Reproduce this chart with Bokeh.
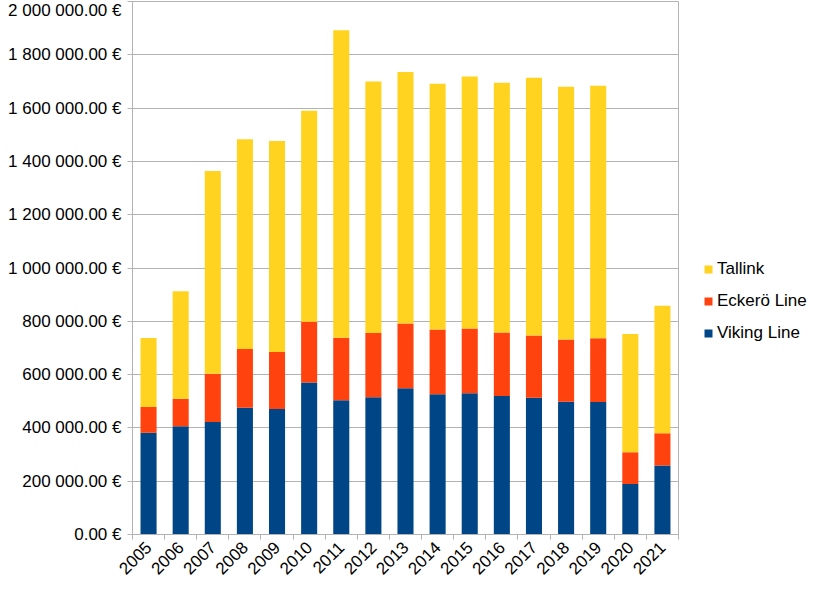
import math
from bokeh.plotting import figure
from bokeh.layouts import row
from bokeh.models import Range1d, FixedTicker, Legend, LegendItem
from bokeh.embed import file_html
from bokeh.resources import INLINE

years = ["2005", "2006", "2007", "2008", "2009", "2010", "2011", "2012", "2013",
         "2014", "2015", "2016", "2017", "2018", "2019", "2020", "2021"]
viking = [381400, 406000, 422000, 476000, 471000, 570000, 504000, 515000, 549000,
          526000, 530000, 520000, 513000, 498000, 497000, 189600, 258700]
eckero = [96600, 103000, 181000, 220000, 214000, 228000, 234000, 241000, 243000,
          243000, 243000, 238000, 234000, 234000, 239000, 119000, 121300]
tallink = [259000, 404000, 761000, 787000, 792000, 792000, 1154000, 944000, 943000,
           922000, 946000, 937000, 967000, 948000, 948000, 443400, 478700]
y_ticks = [0, 200000, 400000, 600000, 800000, 1000000, 1200000, 1400000, 1600000, 1800000, 2000000]
y_tick_labels = ["0.00 €", "200 000.00 €", "400 000.00 €", "600 000.00 €", "800 000.00 €",
                 "1 000 000.00 €", "1 200 000.00 €", "1 400 000.00 €", "1 600 000.00 €",
                 "1 800 000.00 €", "2 000 000.00 €"]
series_names = ["Viking Line", "Eckerö Line", "Tallink"]
colors = ["#004586", "#FF420E", "#FFD320"]

FONT = "Liberation Sans"
GRID = "#b3b3b3"

x_pos = [i + 0.5 for i in range(len(years))]
data = dict(x=x_pos, viking=viking, eckero=eckero, tallink=tallink)

p = figure(width=680, height=582, output_backend="svg", toolbar_location=None,
           x_range=Range1d(0, len(years)), y_range=Range1d(0, 2000000),
           min_border_left=132, min_border_right=2, min_border_top=1, min_border_bottom=40)

renderers = p.vbar_stack(["viking", "eckero", "tallink"], x="x", width=0.5, source=data,
                         color=colors, line_color=None)

p.xgrid.visible = False
p.ygrid.grid_line_color = GRID
p.ygrid.grid_line_width = 1
p.ygrid.ticker = FixedTicker(ticks=y_ticks)
p.outline_line_color = GRID
p.outline_line_width = 1
p.background_fill_color = "white"
p.border_fill_color = "white"

ya = p.yaxis[0]
ya.ticker = FixedTicker(ticks=y_ticks)
ya.major_label_overrides = {t: l for t, l in zip(y_ticks, y_tick_labels)}
ya.axis_line_color = GRID
ya.major_tick_line_color = GRID
ya.major_tick_out = 5
ya.major_tick_in = 0
ya.minor_tick_line_color = None
ya.major_label_standoff = 6
ya.major_label_text_font = FONT
ya.major_label_text_font_size = "17px"
ya.major_label_text_color = "#000000"

xa = p.xaxis[0]
xa.ticker = FixedTicker(ticks=x_pos, minor_ticks=list(range(len(years) + 1)))
xa.major_label_overrides = {x: y for x, y in zip(x_pos, years)}
xa.axis_line_color = GRID
xa.major_tick_line_color = None
xa.major_tick_out = 0
xa.major_tick_in = 0
xa.minor_tick_line_color = GRID
xa.minor_tick_out = 5
xa.minor_tick_in = 0
xa.major_label_orientation = math.pi / 4
xa.major_label_standoff = 5
xa.major_label_text_font = FONT
xa.major_label_text_font_size = "17px"
xa.major_label_text_color = "#000000"

# legend panel to the right of the plot (hidden copies of the series supply the swatches)
lp = figure(width=131, height=582, output_backend="svg", toolbar_location=None,
            x_range=Range1d(0, len(years)), y_range=Range1d(0, 2000000),
            x_axis_location=None, y_axis_location=None,
            min_border=0, outline_line_color=None)
lp.grid.visible = False
legend_renderers = lp.vbar_stack(["viking", "eckero", "tallink"], x="x", width=0.5, source=data,
                                 color=colors, line_color=None, visible=False)
items = [LegendItem(label=series_names[i], renderers=[legend_renderers[i]]) for i in (2, 1, 0)]
legend = Legend(items=items, location=(23, 191), orientation="vertical",
                glyph_width=10, glyph_height=10, label_height=20, spacing=12,
                label_standoff=4, padding=0, margin=0, border_line_color=None,
                background_fill_alpha=0, label_text_font=FONT,
                label_text_font_size="17px", label_text_color="#000000")
lp.add_layout(legend, "center")

layout = row(p, lp)
open("out.html", "w").write(file_html(layout, INLINE))
